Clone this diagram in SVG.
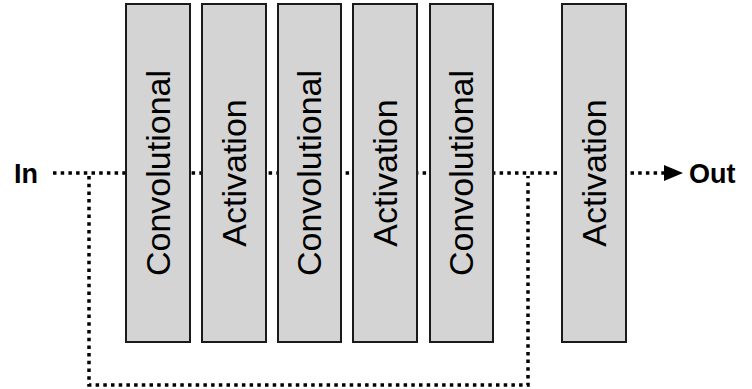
<svg xmlns="http://www.w3.org/2000/svg" width="752" height="389" viewBox="0 0 752 389">
<style>
.box{fill:#d4d4d4;stroke:#1a1a1a;stroke-width:2}
.lbl{font-family:"Liberation Sans",Arial,sans-serif;font-size:34px;fill:#000;text-anchor:middle}
.io{font-family:"Liberation Sans",Arial,sans-serif;font-size:27px;font-weight:bold;fill:#000}
.dot{fill:none;stroke:#000;stroke-width:3.5;stroke-dasharray:3.5 4.2}
</style>
<rect width="752" height="389" fill="#fff"/>
<g id="connectors">
<line class="dot" x1="53" y1="173" x2="664" y2="173"/>
<polyline class="dot" points="89,176 89,385 528,385 528,176"/>
<polygon points="664,165 683,173 664,181" fill="#000"/>
</g>
<g id="in"><text class="io" x="14" y="183">In</text></g>
<g id="out"><text class="io" x="689" y="183">Out</text></g>
<g id="conv1"><rect class="box" x="126" y="4" width="64" height="338"/><text class="lbl" transform="translate(170,173) rotate(-90)">Convolutional</text></g>
<g id="act1"><rect class="box" x="202" y="4" width="64" height="338"/><text class="lbl" transform="translate(246,173) rotate(-90)">Activation</text></g>
<g id="conv2"><rect class="box" x="278" y="4" width="63" height="338"/><text class="lbl" transform="translate(321,173) rotate(-90)">Convolutional</text></g>
<g id="act2"><rect class="box" x="353" y="4" width="64" height="338"/><text class="lbl" transform="translate(397,173) rotate(-90)">Activation</text></g>
<g id="conv3"><rect class="box" x="430" y="4" width="63" height="338"/><text class="lbl" transform="translate(473,173) rotate(-90)">Convolutional</text></g>
<g id="act3"><rect class="box" x="562" y="4" width="64" height="338"/><text class="lbl" transform="translate(606,173) rotate(-90)">Activation</text></g>
</svg>
